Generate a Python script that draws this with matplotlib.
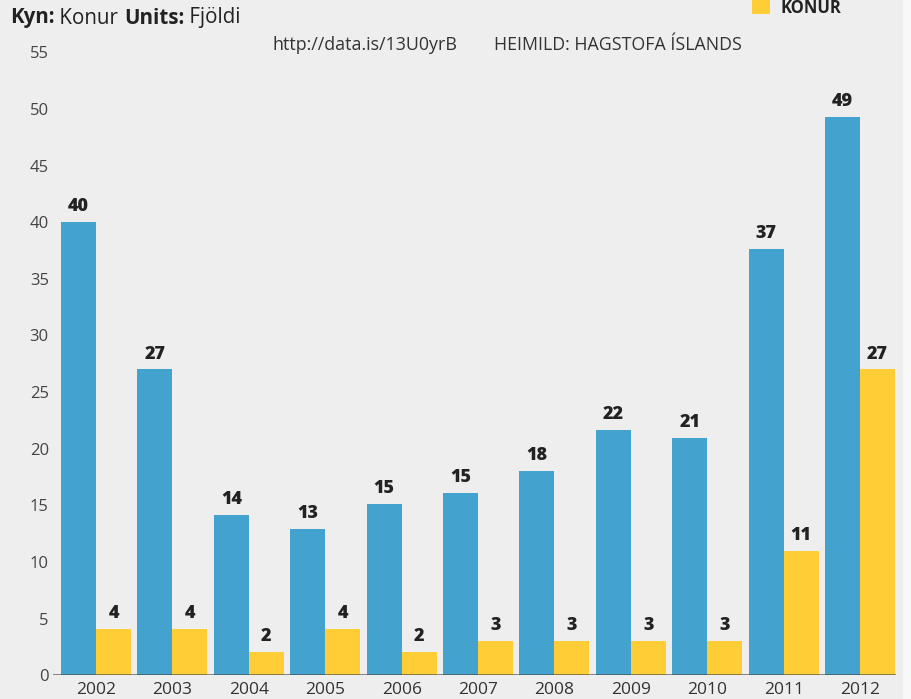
import matplotlib
matplotlib.use('Agg')
import matplotlib.pyplot as plt
from matplotlib.patches import Rectangle
import numpy as np

# Gögn lesin af myndinni
years = ['2002', '2003', '2004', '2005', '2006', '2007', '2008', '2009', '2010', '2011', '2012']
blue_heights = [40.0, 27.0, 14.15, 12.9, 15.1, 16.1, 18.0, 21.65, 20.95, 37.6, 49.3]
blue_labels = [40, 27, 14, 13, 15, 15, 18, 22, 21, 37, 49]
konur_heights = [4.1, 4.1, 2.1, 4.1, 2.1, 3.0, 3.0, 3.0, 3.0, 11.0, 27.0]
konur_labels = [4, 4, 2, 4, 2, 3, 3, 3, 3, 11, 27]
y_ticks = [0, 5, 10, 15, 20, 25, 30, 35, 40, 45, 50, 55]

BLUE = '#43a3ce'
YELLOW = '#ffcd36'
BG = '#eeeeee'
FONT = 'Open Sans'

W, H = 911, 699
fig = plt.figure(figsize=(W / 100, H / 100), dpi=100, facecolor=BG)
plt.rcParams['font.family'] = [FONT, 'DejaVu Sans']

ax = fig.add_axes([53 / W, 23.7 / H, 843 / W, 623 / H])
ax.set_facecolor(BG)

x = np.arange(len(years))
width = 0.458
b1 = ax.bar(x - width / 2, blue_heights, width, color=BLUE, zorder=2)
b2 = ax.bar(x + width / 2, konur_heights, width, color=YELLOW, zorder=2)

# Gildi ofan á súlum
for bars, labels in ((b1, blue_labels), (b2, konur_labels)):
    for bar, lab in zip(bars, labels):
        ax.annotate(str(lab), (bar.get_x() + bar.get_width() / 2, bar.get_height()),
                    xytext=(0, 5), textcoords='offset points', ha='center', va='bottom',
                    fontsize=13, fontweight=800, color='#222222')

ax.set_xlim(-0.563, 10.47)
ax.set_ylim(0, 55)
ax.set_yticks(y_ticks)
ax.set_xticks(x)
ax.set_xticklabels(years)
ax.tick_params(axis='y', length=0, pad=3, labelsize=12, labelcolor='#444444')
ax.tick_params(axis='x', length=0, pad=5, labelsize=12.5, labelcolor='#333333')
for s in ax.spines.values():
    s.set_visible(False)
ax.axhline(0, color='#444444', alpha=0.8, linewidth=1.8, zorder=3)

# Fyrirsögn
renderer = fig.canvas.get_renderer()
xpos = 10
for txt, wt in (('Kyn:', 'bold'), (' Konur ', 'normal'), ('Units:', 'bold'), (' Fjöldi', 'normal')):
    t = fig.text(xpos / W, 1 - 18 / H, txt, fontsize=14.8, fontweight=wt, color='#222222',
                 va='center', ha='left')
    xpos += t.get_window_extent(renderer).width

fig.text(273 / W, 1 - 45 / H, 'http://data.is/13U0yrB', fontsize=12.9, color='#333333',
         va='center', ha='left')
fig.text(494 / W, 1 - 45 / H, 'HEIMILD: HAGSTOFA ÍSLANDS', fontsize=12.8, color='#333333',
         va='center', ha='left')

# Skýring
fig.patches.append(Rectangle((752 / W, 1 - 14 / H), 18 / W, 14 / H, transform=fig.transFigure,
                             facecolor=YELLOW, edgecolor='none'))
fig.text(781 / W, 1 - 8 / H, 'KONUR', fontsize=12, fontweight='bold', color='#222222',
         va='center', ha='left')

# Ljós rönd hægra megin
fig.patches.append(Rectangle((903 / W, 0), 8 / W, 1, transform=fig.transFigure,
                             facecolor='#f8f8f8', edgecolor='none'))

fig.savefig('out.png', dpi=100, facecolor=BG)
